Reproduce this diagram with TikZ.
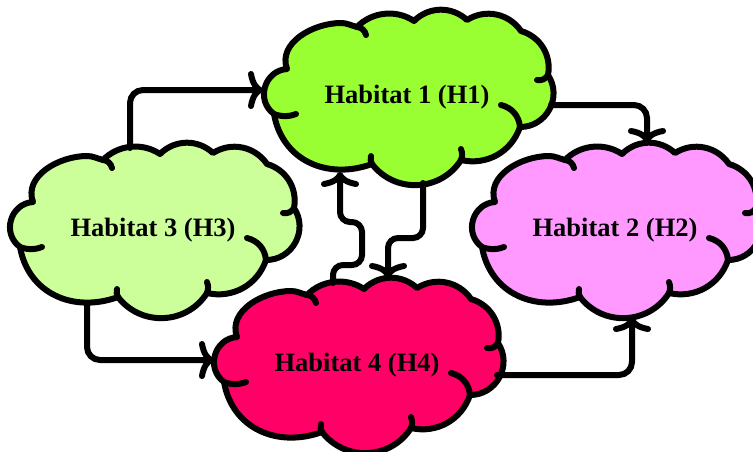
\documentclass[tikz,border=0pt]{standalone}
\usepackage{fontspec}
\setmainfont{Liberation Serif}
\usetikzlibrary{arrows.meta,calc}
\definecolor{cOne}{RGB}{153,255,51}
\definecolor{cTwo}{RGB}{255,153,255}
\definecolor{cThree}{RGB}{204,255,153}
\definecolor{cFour}{RGB}{255,0,102}
\tikzset{
  cloudline/.style={draw=black,line width=6pt,line join=round,line cap=round},
  hookline/.style={draw=black,line width=6pt,line cap=round},
  conn/.style={draw=black,line width=6pt,rounded corners=13pt,line cap=round,
    -{To[length=15pt,width=38pt]}},
  conntight/.style={conn,rounded corners=10pt},
  lbl/.style={font=\fontsize{26.5}{30}\selectfont\bfseries,inner sep=0pt,text=black},
  pics/puffcloud/.style={code={
    \path[cloudline,fill=#1] (-120,-28)
      to[out=110,in=180,looseness=1.0] (-66,-74)
      to[out=0,in=165,looseness=0.9] (-50,-70)
      to[bend left=40,looseness=0.95] (7,-76)
      to[bend left=44] (60,-77)
      to[bend left=44] (114,-66)
      to[bend left=42] (141,-22)
      to[bend left=62,looseness=1.15] (113,30)
      to[bend left=42] (54,63)
      to[bend left=55,looseness=1.08] (-35,67)
      to[out=200,in=-80,looseness=1.1] (-133,17)
      to[bend left=70,looseness=1.25] (-120,-28) -- cycle;
    \draw[hookline] (-50,-70) to[bend left=35] (-41,-62);
    \draw[hookline] (141,-22) to[bend left=35] (130,-17);
    \draw[hookline] (113,30) to[bend right=35] (94,8);
    \draw[hookline] (54,63) to[bend right=20] (54,52);
    \draw[hookline] (-35,67) to[bend left=20] (-36,59);
    \draw[hookline] (-133,17) to[bend right=20] (-111,17);
  }}
}
\begin{document}
\begin{tikzpicture}[x=1pt,y=-1pt]
  \clip (0,0) rectangle (753,451);
  \fill[white] (0,0) rectangle (753,451);
  % clouds
  \pic at (407,97) {puffcloud=cOne};
  \pic at (615,230) {puffcloud=cTwo};
  \pic at (153,230) {puffcloud=cThree};
  \pic at (357,365) {puffcloud=cFour};
  % labels
  \node[lbl] (h1) at (407,97) {Habitat 1 (H1)};
  \node[lbl] (h2) at (615,230) {Habitat 2 (H2)};
  \node[lbl] (h3) at (153,230) {Habitat 3 (H3)};
  \node[lbl] (h4) at (357,365) {Habitat 4 (H4)};
  % connectors
  \draw[conn] ($(h3)+(-23,-82)$) |- ($(h1)+(-144,-7)$);
  \draw[conn] ($(h1)+(144,8)$) -| ($(h2)+(32,-87)$);
  \draw[conntight] ($(h1)+(16,86)$) -- ($(h1)+(16,141)$) -- ($(h4)+(31,-127)$) -- ($(h4)+(31,-87)$);
  \draw[conntight] ($(h4)+(-24,-82)$) -- ($(h4)+(-24,-100)$) -- ($(h4)+(5,-100)$)
     -- ($(h1)+(-45,125)$) -- ($(h1)+(-67,125)$) -- ($(h1)+(-67,75)$);
  \draw[conn] ($(h3)+(-66,75)$) |- ($(h4)+(-143,-5)$);
  \draw[conn] ($(h4)+(140,10)$) -| ($(h2)+(17,87)$);
\end{tikzpicture}
\end{document}
